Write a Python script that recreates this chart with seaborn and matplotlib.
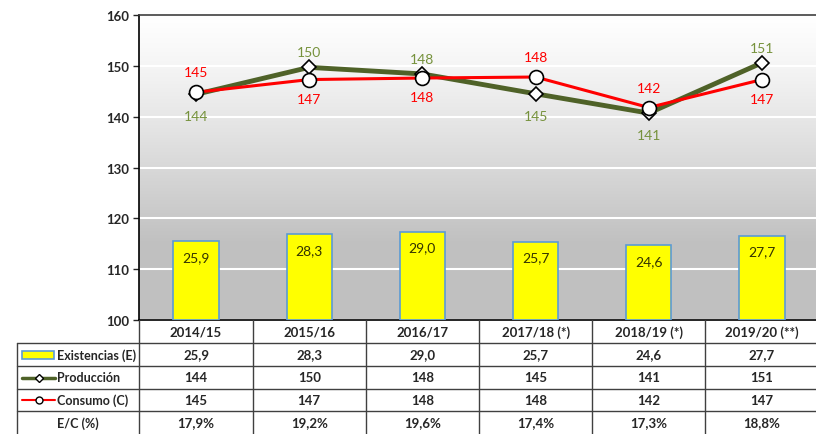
import numpy as np
import matplotlib
matplotlib.use("Agg")
import matplotlib.pyplot as plt
from matplotlib.patches import Rectangle
from matplotlib.lines import Line2D
import seaborn as sns

# Datos
campanas = ["2014/15", "2015/16", "2016/17", "2017/18 (*)", "2018/19 (*)", "2019/20 (**)"]
existencias = [25.9, 28.3, 29.0, 25.7, 24.6, 27.7]
produccion = [144.4, 149.7, 148.4, 144.5, 140.7, 150.6]
consumo = [144.8, 147.3, 147.6, 147.8, 141.8, 147.3]
prod_etiquetas = [144, 150, 148, 145, 141, 151]
cons_etiquetas = [145, 147, 148, 148, 142, 147]
existencias_txt = ["25,9", "28,3", "29,0", "25,7", "24,6", "27,7"]
ratio_ec = ["17,9%", "19,2%", "19,6%", "17,4%", "17,3%", "18,8%"]

verde = "#4f6228"
verde_txt = "#76923c"
rojo = "#ff0000"

sns.set_style("white")
plt.rcParams["font.family"] = ["Lato", "DejaVu Sans"]

W, H = 816, 435
fig = plt.figure(figsize=(W / 100, H / 100), dpi=100)

# plot area in pixels
px0, py0, px1, py1 = 139.4, 16, 818.6, 321
ax = fig.add_axes([px0 / W, 1 - py1 / H, (px1 - px0) / W, (py1 - py0) / H])

# gradient background (white at top -> gray)
t = np.linspace(0, 1, 300).reshape(-1, 1)
g = 1 - (1 - 0.753) * np.clip(t / 0.75, 0, 1) ** 1.2
img = np.dstack([g, g, g])
ax.imshow(img, extent=(-0.5, 5.5, 100, 160), aspect="auto", origin="upper", zorder=0)

# lines
sns.lineplot(x=campanas, y=produccion, ax=ax, color=verde, lw=3.5, marker="D", ms=7,
             mfc="white", mec="black", mew=1.2, sort=False, zorder=3)
sns.lineplot(x=campanas, y=consumo, ax=ax, color=rojo, lw=2.2, marker="o", ms=10,
             mfc="white", mec="black", mew=1.2, sort=False, zorder=4)

for i in range(len(campanas)):
    if produccion[i] >= consumo[i]:
        off_p, off_c = 15, -19
    else:
        off_p, off_c = -22, 20
    ax.annotate(str(prod_etiquetas[i]), (i, produccion[i]), xytext=(0, off_p),
                textcoords="offset pixels", ha="center", va="center", color=verde_txt, fontsize=10)
    ax.annotate(str(cons_etiquetas[i]), (i, consumo[i]), xytext=(0, off_c),
                textcoords="offset pixels", ha="center", va="center", color=rojo, fontsize=10)

ax.set_xlim(-0.5, 5.5)
ax.set_ylim(100, 160)
ax.set_yticks(range(100, 161, 10))
ax.yaxis.grid(True, color="white", lw=1.5)
ax.set_axisbelow(True)
ax.tick_params(axis="y", labelsize=9.5, length=4, width=1, direction="out", left=True, pad=3)
for lbl in ax.get_yticklabels():
    lbl.set_fontweight("bold")
ax.tick_params(axis="x", bottom=False, labelbottom=False)
ax.set_xlabel("")
ax.set_ylabel("")
ax.spines["right"].set_visible(False)
ax.spines["left"].set_color("black")
ax.spines["bottom"].set_color("black")
ax.spines["top"].set_color("#404040")
for s in ["left", "bottom", "top"]:
    ax.spines[s].set_linewidth(1.2)

# bars on secondary axis (0-100)
ax2 = ax.twinx()
sns.barplot(x=campanas, y=existencias, ax=ax2, color="yellow", saturation=1, width=0.4,
            edgecolor="#5b9bd5", linewidth=1.2)
ax2.set_ylim(0, 100)
ax2.set_xlim(-0.5, 5.5)
ax2.set_yticks([])
ax2.set_ylabel("")
ax2.set_xlabel("")
ax2.tick_params(axis="x", bottom=False, labelbottom=False)
for s in ax2.spines.values():
    s.set_visible(False)
for i, v in enumerate(existencias):
    ax2.annotate(existencias_txt[i], (i, v), xytext=(0, -16), textcoords="offset pixels",
                 ha="center", va="center", color="#333300", fontsize=10)

# data table below
tax = fig.add_axes([0, 0, 1, (H - py1) / H])
tax.set_xlim(0, W)
tax.set_ylim(H, py1)
tax.axis("off")

col_w = (px1 - px0) / 6
xs = [px0 + col_w * k for k in range(7)]
rows = [321, 344, 367, 390, 412, 435]
lc = "#404040"

for k in range(7):
    tax.add_line(Line2D([xs[k], xs[k]], [321, 436], color=lc, lw=1))
tax.add_line(Line2D([17, 17], [344, 436], color=lc, lw=1))
for r in rows[1:5]:
    tax.add_line(Line2D([17, W], [r, r], color=lc, lw=1))

fs = 9.5
for k in range(6):
    cx = xs[k] + col_w / 2
    tax.text(cx, (rows[0] + rows[1]) / 2, campanas[k], ha="center", va="center", fontsize=fs, fontweight="bold")
    tax.text(cx, (rows[1] + rows[2]) / 2, existencias_txt[k], ha="center", va="center", fontsize=fs, fontweight="bold")
    tax.text(cx, (rows[2] + rows[3]) / 2, str(prod_etiquetas[k]), ha="center", va="center", fontsize=fs, fontweight="bold")
    tax.text(cx, (rows[3] + rows[4]) / 2, str(cons_etiquetas[k]), ha="center", va="center", fontsize=fs, fontweight="bold")
    tax.text(cx, (rows[4] + rows[5]) / 2, ratio_ec[k], ha="center", va="center", fontsize=fs, fontweight="bold")

# legend keys inside the first column
fl = 9
yc = (rows[1] + rows[2]) / 2
tax.add_patch(Rectangle((22, yc - 4), 32, 8, facecolor="yellow", edgecolor="#5b9bd5", lw=1.2))
tax.text(57, yc, "Existencias (E)", ha="left", va="center", fontsize=fl, fontweight="bold")
yc = (rows[2] + rows[3]) / 2
tax.add_line(Line2D([22, 55], [yc, yc], color=verde, lw=2.5))
tax.add_line(Line2D([38.5], [yc], marker="D", ms=4, mfc="white", mec="black", mew=1, lw=0))
tax.text(57, yc, "Producción", ha="left", va="center", fontsize=fl, fontweight="bold")
yc = (rows[3] + rows[4]) / 2
tax.add_line(Line2D([22, 55], [yc, yc], color=rojo, lw=1.5))
tax.add_line(Line2D([38.5], [yc], marker="o", ms=5, mfc="white", mec="black", mew=1, lw=0))
tax.text(57, yc, "Consumo (C)", ha="left", va="center", fontsize=fl, fontweight="bold")
yc = (rows[4] + rows[5]) / 2
tax.text((17 + px0) / 2, yc, "E/C (%)", ha="center", va="center", fontsize=fl, fontweight="bold")

fig.savefig("out.png", dpi=100)
